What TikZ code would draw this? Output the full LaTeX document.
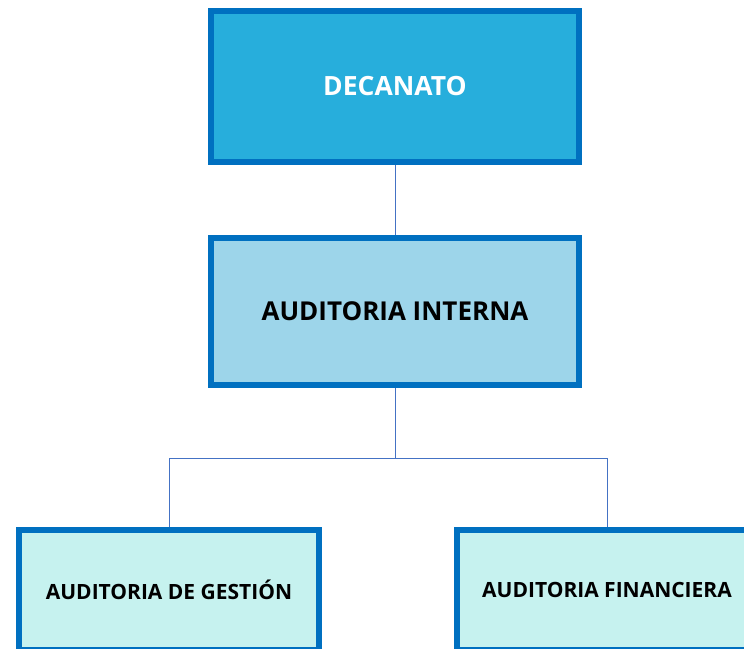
\documentclass[tikz,border=0pt]{standalone}
\usepackage{fontspec}
\setmainfont{Open Sans}
\usepackage{xcolor}
\usetikzlibrary{positioning}

\definecolor{borde}{HTML}{0070C0}
\definecolor{azulfuerte}{HTML}{27AEDC}
\definecolor{azulmedio}{HTML}{9DD5EA}
\definecolor{azulclaro}{HTML}{C6F2EF}
\definecolor{linea}{HTML}{4472C4}

\begin{document}
\begin{tikzpicture}[
		    x=1pt, y=-1pt,
		    every node/.style={draw=borde, line width=6pt, font=\bfseries, align=center, inner sep=0pt}
		]
		\tikzset{
		    decanato/.style={fill=azulfuerte, text=white, minimum width=368pt, minimum height=151pt, font=\bfseries\fontsize{26.5}{30}\selectfont},
		    interna/.style={fill=azulmedio, text=black, minimum width=368pt, minimum height=147pt, font=\bfseries\fontsize{26}{30}\selectfont},
		    area/.style={fill=azulclaro, text=black, minimum width=300pt, minimum height=120pt, font=\bfseries\fontsize{21}{25}\selectfont},
		    conector/.style={draw=linea, line width=1pt}
		}
		\clip (0,0) rectangle (744,648);
		\fill[white] (0,0) rectangle (744,648);
		\node[decanato] (dec) at (395,86.5) {DECANATO};
		\node[interna] (int) at (395,311.5) {AUDITORIA INTERNA};
		\node[area] (ges) at (169,590) {AUDITORIA DE GESTIÓN};
		\node[area] (fin) at (607,590) {AUDITORIA FINANCIERA};
		\coordinate (bus) at (395,458); % reparto hacia las dos áreas
		\draw[conector] (dec) -- (int);
		\draw[conector] (int) -- (bus) -| (ges);
		\draw[conector] (bus) -| (fin);
		\end{tikzpicture}
\end{document}
